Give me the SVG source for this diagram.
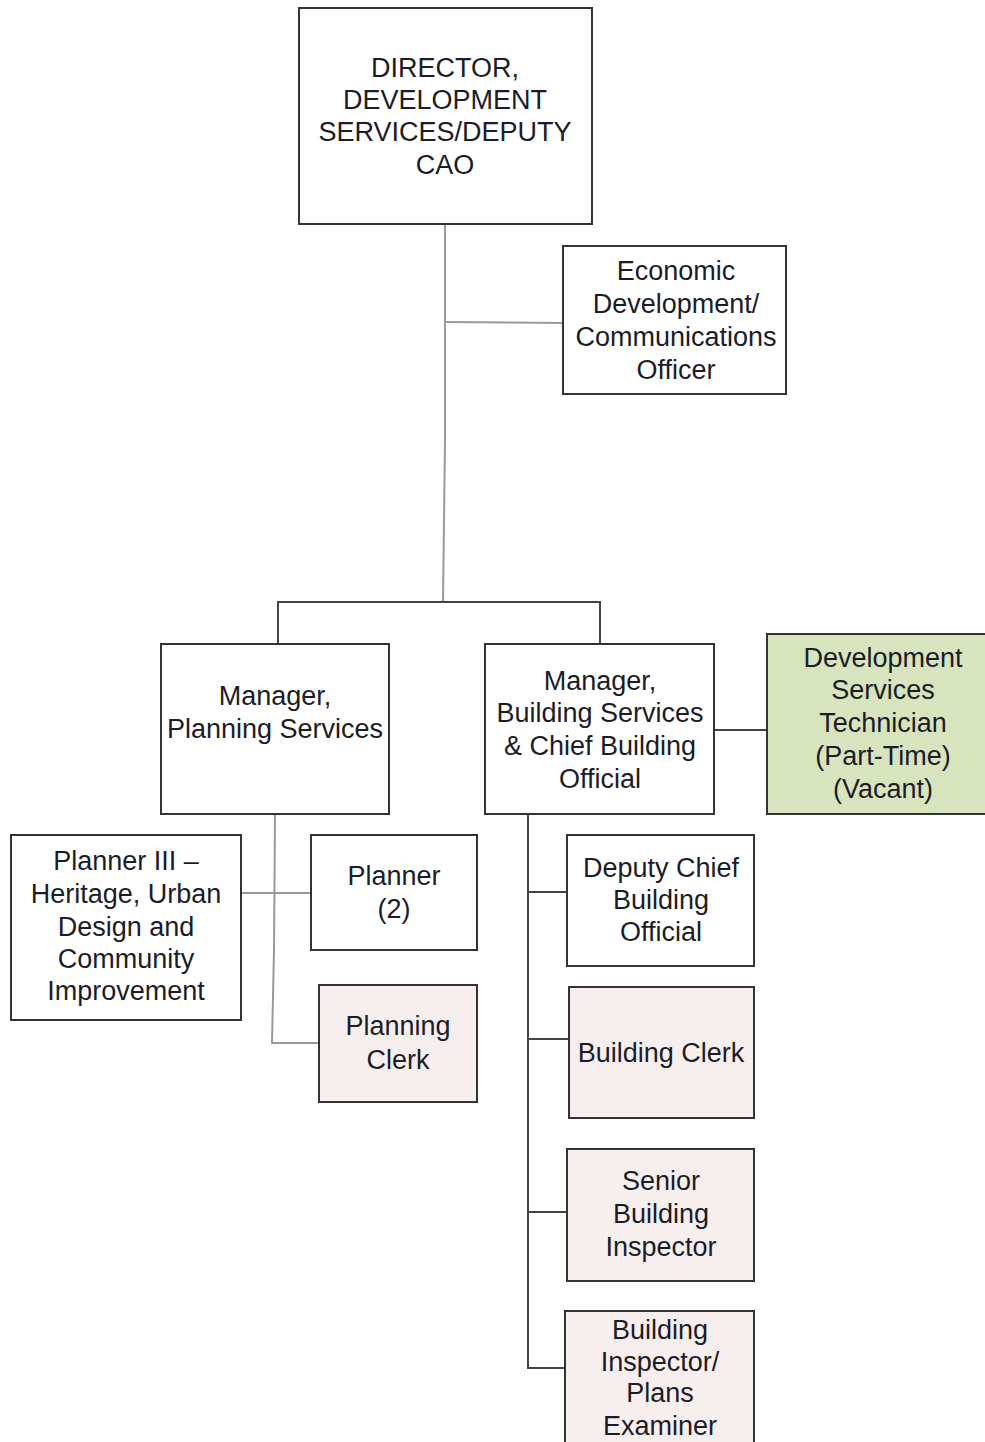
<svg xmlns="http://www.w3.org/2000/svg" width="985" height="1442" viewBox="0 0 985 1442">
  <style>
    .box { fill: #ffffff; stroke: #333333; stroke-width: 2; }
    .pink { fill: #f7efed; }
    .green { fill: #d7e4bd; }
    .lbl { font-family: "Liberation Sans", Arial, sans-serif; font-size: 27px; fill: #1c1c28; text-anchor: middle; }
    .wire { fill: none; stroke: #444444; stroke-width: 2; }
    .wire-light { fill: none; stroke: #9a9a9a; stroke-width: 2; }
  </style>
  <rect width="985" height="1442" fill="#ffffff"/>

  <!-- connectors -->
  <g id="connectors">
    <path class="wire-light" d="M445 224 L445 440 L443 602"/>
    <path class="wire-light" d="M445 322 L563 323"/>
    <path class="wire" d="M278 644 L278 602 L600 602 L600 644"/>
    <path class="wire" d="M714 730 L767 730"/>
    <path class="wire-light" d="M275 814 L274 950 L272 1043 L319 1043"/>
    <path class="wire-light" d="M241 893 L311 893"/>
    <path class="wire" d="M528 814 L528 1368 L565 1368"/>
    <path class="wire" d="M528 892 L567 892"/>
    <path class="wire" d="M528 1039 L569 1039"/>
    <path class="wire" d="M528 1212 L567 1212"/>
  </g>

  <g id="director">
    <rect class="box" x="299" y="8" width="293" height="216"/>
    <text class="lbl" x="445" y="77">DIRECTOR,</text>
    <text class="lbl" x="445" y="109">DEVELOPMENT</text>
    <text class="lbl" x="445" y="141">SERVICES/DEPUTY</text>
    <text class="lbl" x="445" y="174">CAO</text>
  </g>

  <g id="econ-dev">
    <rect class="box" x="563" y="246" width="223" height="148"/>
    <text class="lbl" x="676" y="280">Economic</text>
    <text class="lbl" x="676" y="313">Development/</text>
    <text class="lbl" x="676" y="346">Communications</text>
    <text class="lbl" x="676" y="379">Officer</text>
  </g>

  <g id="mgr-planning">
    <rect class="box" x="161" y="644" width="228" height="170"/>
    <text class="lbl" x="275" y="705">Manager,</text>
    <text class="lbl" x="275" y="738">Planning Services</text>
  </g>

  <g id="mgr-building">
    <rect class="box" x="485" y="644" width="229" height="170"/>
    <text class="lbl" x="600" y="690">Manager,</text>
    <text class="lbl" x="600" y="722">Building Services</text>
    <text class="lbl" x="600" y="755">&amp; Chief Building</text>
    <text class="lbl" x="600" y="788">Official</text>
  </g>

  <g id="dev-tech">
    <rect class="box green" x="767" y="634" width="222" height="180"/>
    <text class="lbl" x="883" y="667">Development</text>
    <text class="lbl" x="883" y="699">Services</text>
    <text class="lbl" x="883" y="732">Technician</text>
    <text class="lbl" x="883" y="765">(Part-Time)</text>
    <text class="lbl" x="883" y="798">(Vacant)</text>
  </g>

  <g id="planner-3">
    <rect class="box" x="11" y="835" width="230" height="185"/>
    <text class="lbl" x="126" y="870">Planner III –</text>
    <text class="lbl" x="126" y="903">Heritage, Urban</text>
    <text class="lbl" x="126" y="936">Design and</text>
    <text class="lbl" x="126" y="968">Community</text>
    <text class="lbl" x="126" y="1000">Improvement</text>
  </g>

  <g id="planner-2">
    <rect class="box" x="311" y="835" width="166" height="115"/>
    <text class="lbl" x="394" y="885">Planner</text>
    <text class="lbl" x="394" y="918">(2)</text>
  </g>

  <g id="planning-clerk">
    <rect class="box pink" x="319" y="985" width="158" height="117"/>
    <text class="lbl" x="398" y="1035">Planning</text>
    <text class="lbl" x="398" y="1069">Clerk</text>
  </g>

  <g id="deputy-cbo">
    <rect class="box" x="567" y="835" width="187" height="131"/>
    <text class="lbl" x="661" y="877">Deputy Chief</text>
    <text class="lbl" x="661" y="909">Building</text>
    <text class="lbl" x="661" y="941">Official</text>
  </g>

  <g id="building-clerk">
    <rect class="box pink" x="569" y="987" width="185" height="131"/>
    <text class="lbl" x="661" y="1062">Building Clerk</text>
  </g>

  <g id="senior-inspector">
    <rect class="box pink" x="567" y="1149" width="187" height="132"/>
    <text class="lbl" x="661" y="1190">Senior</text>
    <text class="lbl" x="661" y="1223">Building</text>
    <text class="lbl" x="661" y="1256">Inspector</text>
  </g>

  <g id="building-inspector">
    <rect class="box pink" x="565" y="1311" width="189" height="140"/>
    <text class="lbl" x="660" y="1339">Building</text>
    <text class="lbl" x="660" y="1371">Inspector/</text>
    <text class="lbl" x="660" y="1402">Plans</text>
    <text class="lbl" x="660" y="1435">Examiner</text>
  </g>
</svg>
